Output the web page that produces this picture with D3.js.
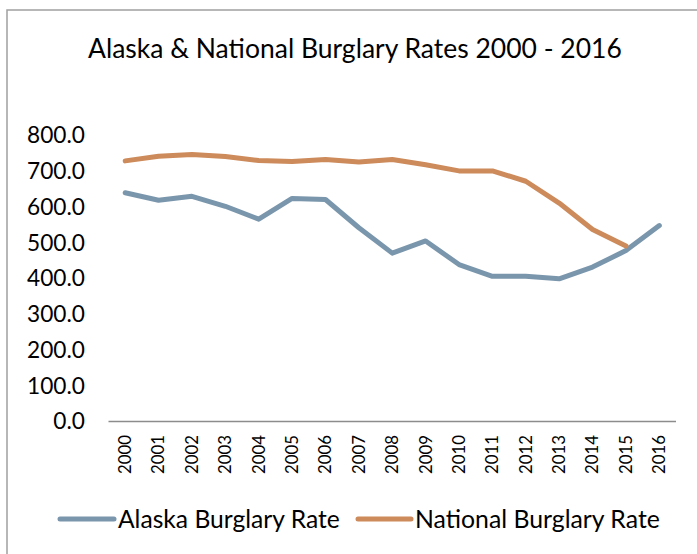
<!DOCTYPE html>
<html>
<head>
<meta charset="utf-8">
<script src="https://cdn.jsdelivr.net/npm/d3@7"></script>
<style>
  body { margin: 0; background: #fff; }
  text { font-family: Lato, "Noto Sans", sans-serif; fill: #000; }
</style>
</head>
<body>
<div id="chart"></div>
<script>
var years = ["2000","2001","2002","2003","2004","2005","2006","2007","2008",
             "2009","2010","2011","2012","2013","2014","2015","2016"];
var alaskaRate = [640, 619, 630, 602, 566, 624, 621, 542, 471, 505, 439, 406, 406, 399, 432, 478, 548];
var nationalRate = [729, 742, 747, 741, 730, 727, 733, 726, 733, 718, 701, 701, 672, 611, 537, 491];
var yTicks = [0, 100, 200, 300, 400, 500, 600, 700, 800];
var seriesNames = ["Alaska Burglary Rate", "National Burglary Rate"];
var seriesColors = ["#7a96ac", "#cd8a5a"];

var W = 697, H = 554;

var svg = d3.select("#chart").append("svg")
    .attr("width", W)
    .attr("height", H);

// fit a text node's font size so it spans the given width
function fitWidth(sel, target) {
    sel.style("font-size", "20px");
    var len = sel.node().getComputedTextLength();
    var size = 20 * target / len;
    sel.style("font-size", size + "px");
    return size;
}

// chart frame (runs off the right and bottom edge)
svg.append("rect")
    .attr("x", 7).attr("y", 10)
    .attr("width", 720).attr("height", 580)
    .attr("fill", "none")
    .attr("stroke", "#a0a0a0")
    .attr("stroke-width", 1.5);

var title = svg.append("text")
    .attr("x", 88).attr("y", 57.5)
    .text("Alaska & National Burglary Rates 2000 - 2016");
fitWidth(title, 534);

var xScale = d3.scaleBand().domain(years).range([108.5, 676]),
    yScale = d3.scaleLinear().domain([0, 800]).range([421.5, 135.5]);

var cx = d => xScale(d) + xScale.bandwidth() / 2;

// y labels
var probe = svg.append("text").text("800.0");
var ySize = fitWidth(probe, 58);
probe.remove();

var yAxis = svg.append("g")
    .attr("transform", "translate(85,0)")
    .call(d3.axisLeft(yScale).tickValues(yTicks).tickSize(0).tickPadding(0).tickFormat(d3.format(".1f")));
yAxis.select(".domain").remove();
yAxis.selectAll("text")
    .style("font-family", "Lato, 'Noto Sans', sans-serif")
    .style("font-size", ySize + "px")
    .attr("fill", "#000");

// x axis line
svg.append("line")
    .attr("x1", xScale.range()[0]).attr("x2", xScale.range()[1])
    .attr("y1", yScale(0)).attr("y2", yScale(0))
    .attr("stroke", "#8c8c8c")
    .attr("stroke-width", 1.5);

probe = svg.append("text").text("2000");
var xSize = fitWidth(probe, 39);
probe.remove();

svg.append("g").selectAll("text")
    .data(years)
    .enter().append("text")
    .attr("transform", d => "translate(" + cx(d) + ",435) rotate(-90)")
    .attr("text-anchor", "end")
    .attr("dy", "0.35em")
    .style("font-size", xSize + "px")
    .text(d => d);

var line = d3.line()
    .x((d, i) => cx(years[i]))
    .y(d => yScale(d));

[alaskaRate, nationalRate].forEach((vals, k) => {
    svg.append("path")
        .datum(vals)
        .attr("d", line)
        .attr("fill", "none")
        .attr("stroke", seriesColors[k])
        .attr("stroke-width", 5)
        .attr("stroke-linejoin", "round")
        .attr("stroke-linecap", "round");
});

// legend
var legendY = 519;
var legendPos = [{x0: 60, x1: 114, tx: 118, tw: 222}, {x0: 358, x1: 411, tx: 415, tw: 245}];
legendPos.forEach((p, k) => {
    svg.append("line")
        .attr("x1", p.x0).attr("x2", p.x1)
        .attr("y1", legendY).attr("y2", legendY)
        .attr("stroke", seriesColors[k])
        .attr("stroke-width", 5)
        .attr("stroke-linecap", "round");
    var t = svg.append("text")
        .attr("x", p.tx).attr("y", legendY)
        .attr("dy", "0.35em")
        .text(seriesNames[k]);
    fitWidth(t, p.tw);
});
</script>
</body>
</html>
